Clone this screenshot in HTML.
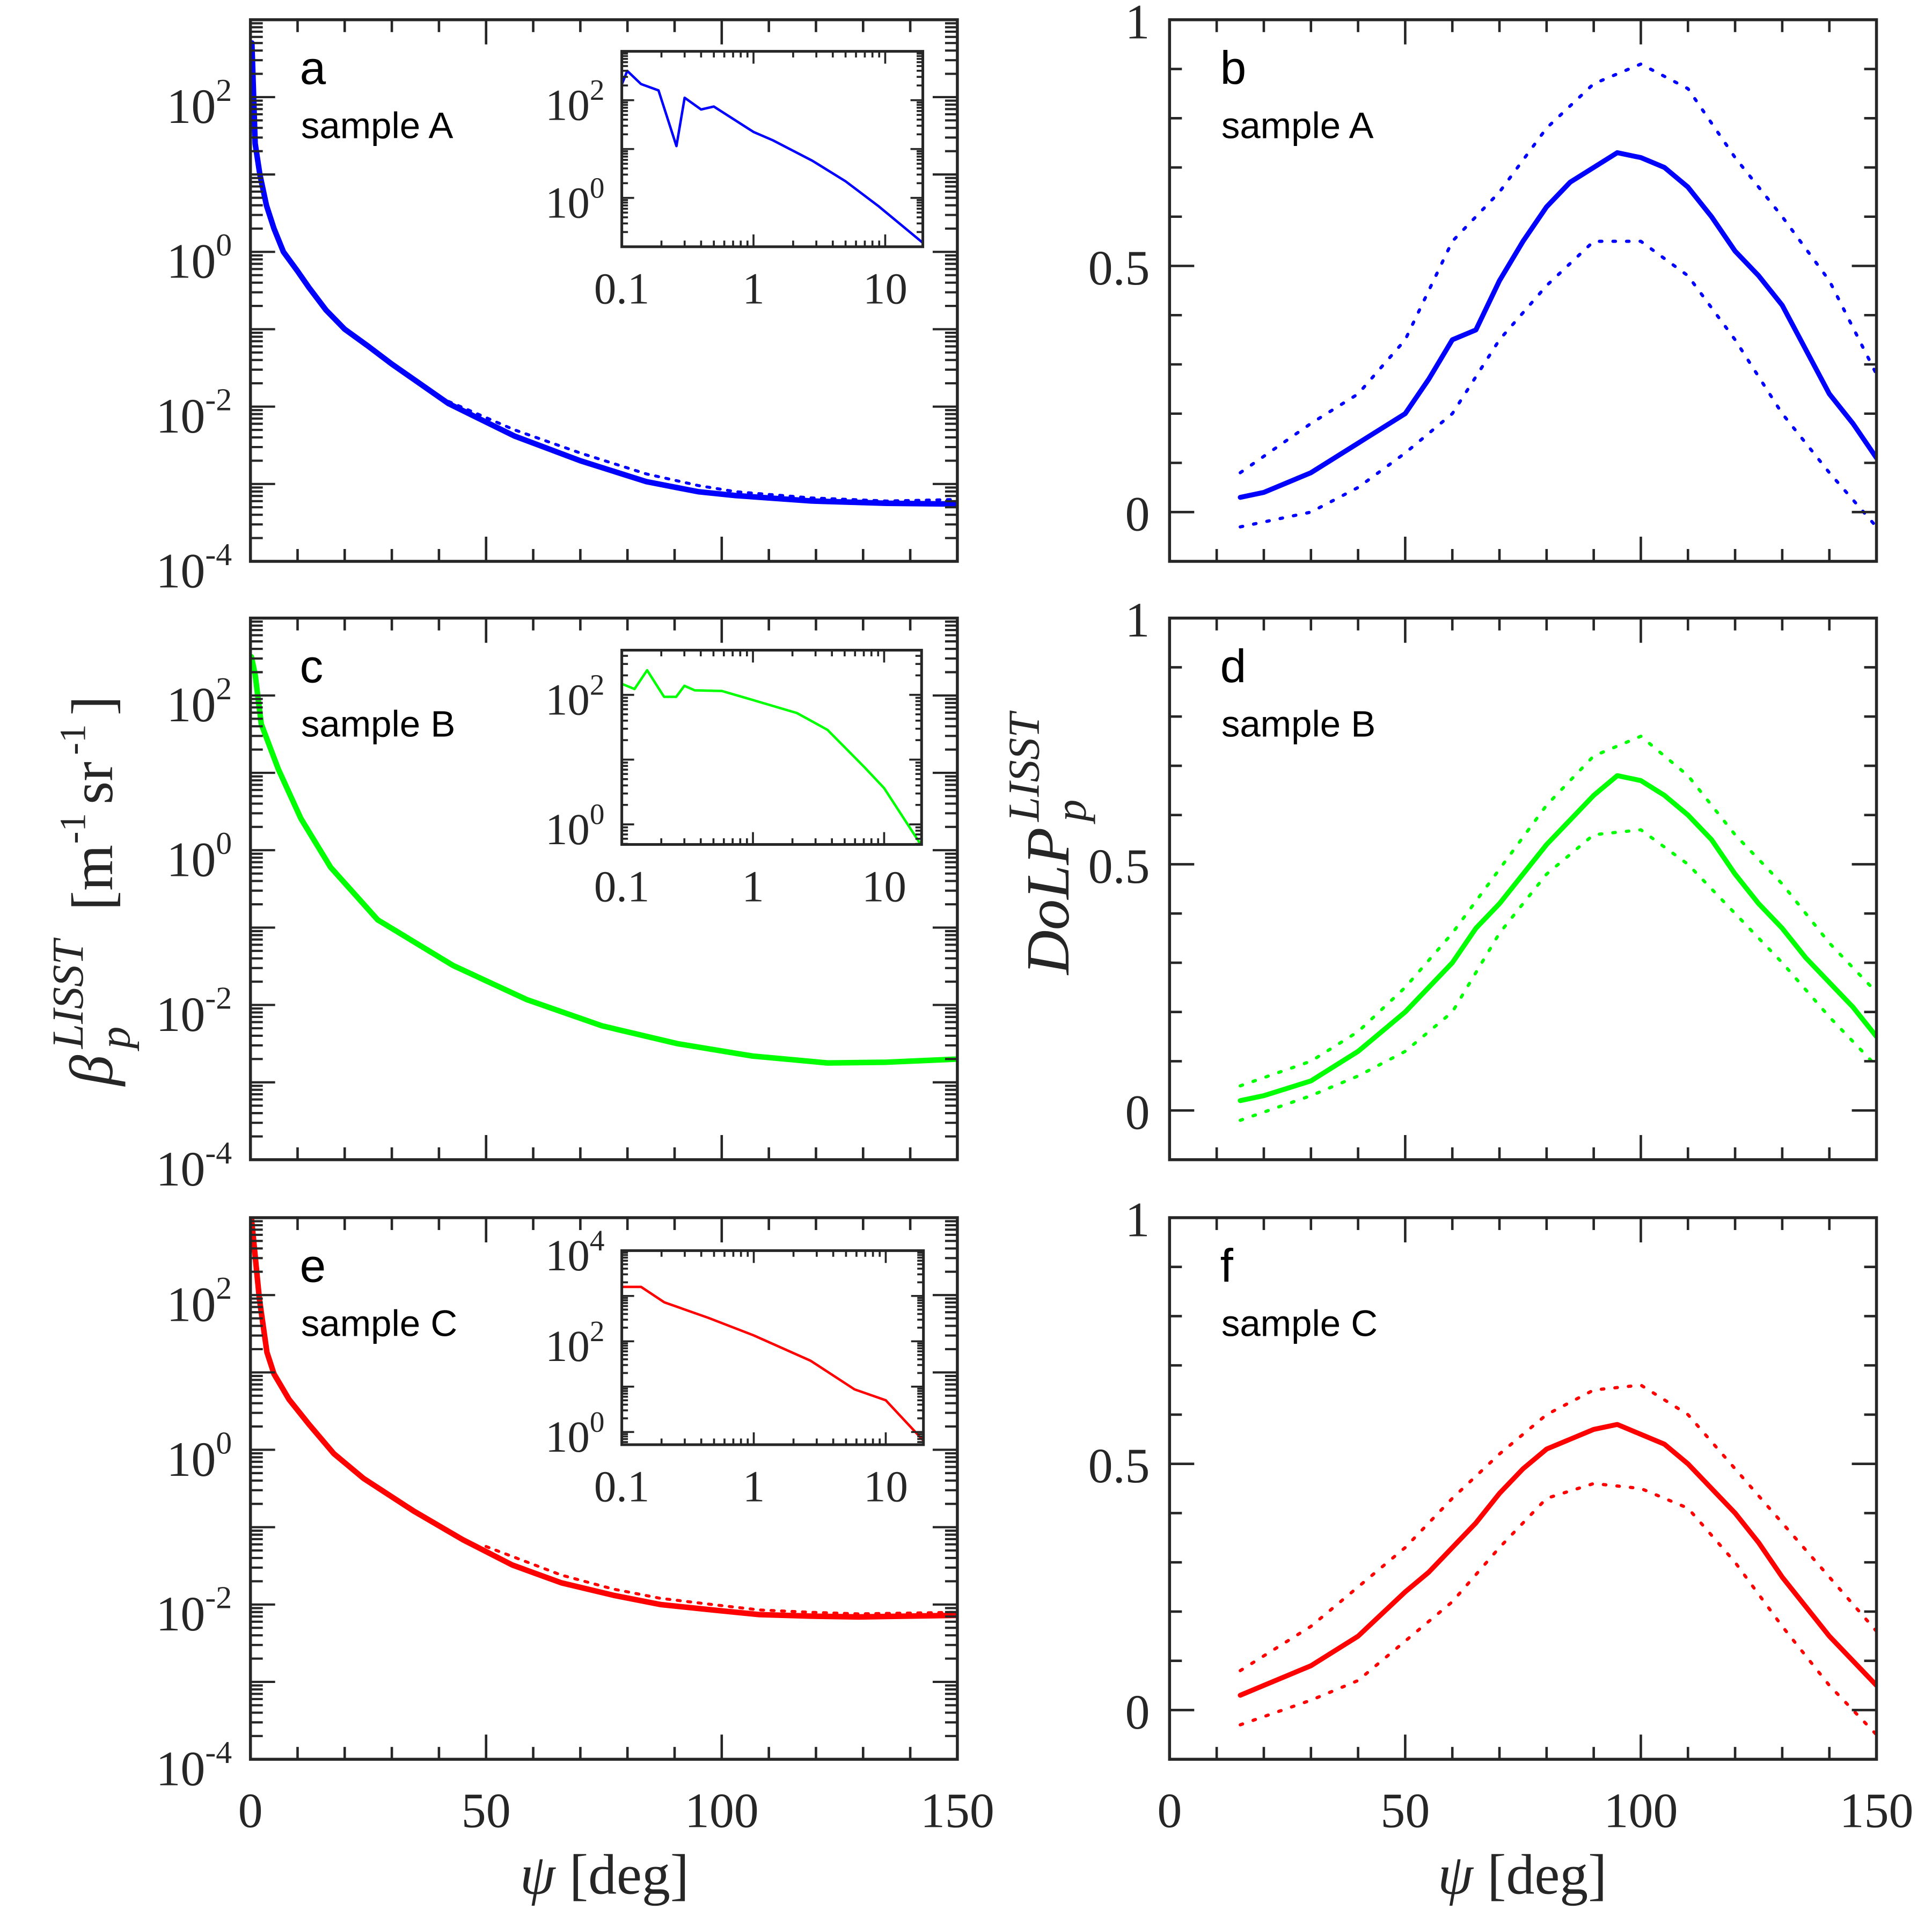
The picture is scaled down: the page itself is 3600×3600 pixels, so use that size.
<!DOCTYPE html>
<html><head><meta charset="utf-8"><style>
html,body{margin:0;padding:0;background:#fff}
svg{display:block}
text{font-family:"Liberation Serif",serif;fill:#262626}
.sans{font-family:"Liberation Sans",sans-serif;fill:#000}
</style></head><body>
<svg id="fig" width="3600" height="3600" viewBox="0 0 1566 1566" xmlns="http://www.w3.org/2000/svg">
<rect width="1566" height="1566" fill="#fff"/>
<g id="root"></g>
</svg>
<script>
// ---------- data: phase functions (log10 beta vs psi) ----------
const psiA = [0.3,1,2,3.4,5,7,10,12.4,16,20,25,30,42,56,70,84,95,103,119,135,150];
const logA = [2.7,1.4,1.0,0.6,0.3,0.0,-0.25,-0.46,-0.75,-1.0,-1.22,-1.45,-1.96,-2.38,-2.7,-2.97,-3.1,-3.15,-3.22,-3.25,-3.26];
const psiAdot = [40,56,70,84,95,103,119,135,150];
const logAdot = [-1.88,-2.3,-2.6,-2.87,-3.02,-3.1,-3.18,-3.22,-3.2];
const psiB = [0.2,1,2.3,5.9,10.7,17,27,43,58.6,74.6,90.6,106.5,122.5,135,150];
const logB = [2.5,2.27,1.63,1.05,0.41,-0.22,-0.9,-1.49,-1.93,-2.27,-2.5,-2.66,-2.75,-2.74,-2.7];
const psiC = [0.2,1.9,3.5,5,8.2,12.4,17.7,24,34.6,45,55.6,66,77,87,98,108,119,129,150];
const logC = [3.0,1.95,1.26,0.98,0.65,0.33,-0.05,-0.37,-0.79,-1.16,-1.49,-1.72,-1.88,-2.0,-2.07,-2.13,-2.15,-2.16,-2.14];
const psiCdot = [50,66,77,87,98,108,119,129,150];
const logCdot = [-1.25,-1.62,-1.8,-1.92,-2.0,-2.07,-2.1,-2.12,-2.1];
// insets (x log angle, y log beta)
const insA_x = [0.1,0.11,0.14,0.19,0.26,0.3,0.4,0.5,1,1.4,2.8,5,8.9,19.5];
const insA_y = [2.32,2.6,2.33,2.2,1.06,2.05,1.81,1.87,1.35,1.18,0.76,0.34,-0.17,-0.93];
const insB_x = [0.1,0.125,0.156,0.21,0.26,0.3,0.36,0.58,1,2.16,3.7,7.1,10,18.6];
const insB_y = [2.17,2.09,2.38,1.97,1.97,2.14,2.07,2.06,1.92,1.72,1.46,0.88,0.56,-0.28];
const insC_x = [0.1,0.14,0.21,0.45,1,2.7,5.8,10,19];
const insC_y = [3.2,3.2,2.86,2.52,2.13,1.57,0.94,0.7,-0.17];
// ---------- data: DoLP ----------
const psiD = [15,20,30,40,50,55,60,65,70,75,80,85,90,95,100,105,110,115,120,125,130,135,140,145,150];
const dolpA = [0.03,0.04,0.08,0.14,0.2,0.27,0.35,0.37,0.47,0.55,0.62,0.67,0.7,0.73,0.72,0.7,0.66,0.6,0.53,0.48,0.42,0.33,0.24,0.18,0.11];
const psiE = [15,30,40,50,60,70,80,90,100,110,120,130,140,150];
const dolpAup = [0.08,0.18,0.24,0.35,0.55,0.65,0.78,0.87,0.91,0.86,0.72,0.6,0.47,0.28];
const dolpAlo = [-0.03,0.0,0.05,0.12,0.2,0.35,0.46,0.55,0.55,0.48,0.35,0.2,0.08,-0.03];
const dolpB = [0.02,0.03,0.06,0.12,0.2,0.25,0.3,0.37,0.42,0.48,0.54,0.59,0.64,0.68,0.67,0.64,0.6,0.55,0.48,0.42,0.37,0.31,0.26,0.21,0.15];
const dolpBup = [0.05,0.1,0.16,0.25,0.36,0.49,0.62,0.72,0.76,0.68,0.56,0.46,0.34,0.24];
const dolpBlo = [-0.02,0.03,0.07,0.12,0.2,0.36,0.48,0.56,0.57,0.5,0.4,0.3,0.19,0.09];
const dolpC = [0.03,0.05,0.09,0.15,0.24,0.28,0.33,0.38,0.44,0.49,0.53,0.55,0.57,0.58,0.56,0.54,0.5,0.45,0.4,0.34,0.27,0.21,0.15,0.1,0.05];
const dolpCup = [0.08,0.17,0.25,0.33,0.43,0.52,0.6,0.65,0.66,0.6,0.49,0.38,0.27,0.16];
const dolpClo = [-0.03,0.02,0.06,0.14,0.22,0.33,0.43,0.46,0.45,0.41,0.3,0.17,0.05,-0.05];
// ---------- labels ----------
const xTickLabels = ['0','50','100','150'];
const logTickLabels = ['-4','-2','0','2'];
const dolpTickLabels = ['0','0.5','1'];

const NS='http://www.w3.org/2000/svg';
const root=document.getElementById('root');
const AX='#262626';
function mk(tag,attrs,parent){const e=document.createElementNS(NS,tag);for(const k in attrs)e.setAttribute(k,attrs[k]);(parent||root).appendChild(e);return e;}
function line(x1,y1,x2,y2,w,parent){return mk('line',{x1:x1,y1:y1,x2:x2,y2:y2,stroke:AX,'stroke-width':w||2.2},parent);}

const LX=[203,776], RX=[948,1521];
const ROWS=[[16,455],[501,940],[987,1426]];
const COLORS=['#0000ff','#00ff00','#ff0000'];

function linX(x0,x1,v0,v1){return v=>x0+(v-v0)/(v1-v0)*(x1-x0);}
function linY(y0,y1,v0,v1){return v=>y1-(v-v0)/(v1-v0)*(y1-y0);}
function logX(x0,x1,d0,d1){return v=>x0+(Math.log10(v)-d0)/(d1-d0)*(x1-x0);}

let clipId=0;
function clip(x0,y0,x1,y1){const id='c'+(clipId++);const cp=mk('clipPath',{id:id});mk('rect',{x:x0,y:y0,width:x1-x0,height:y1-y0},cp);return 'url(#'+id+')';}
function path(xs,ys,fx,fy,color,w,dash,g,name){
  let d='';for(let i=0;i<xs.length;i++){d+=(i?'L':'M')+fx(xs[i]).toFixed(2)+','+fy(ys[i]).toFixed(2);}
  const p=mk('path',{d:d,fill:'none',stroke:color,'stroke-width':w,'stroke-linejoin':'round','stroke-linecap':'round'},g);
  if(dash)p.setAttribute('stroke-dasharray',dash);
  
  
  return p;
}

function xTicks(x0,x1,y0,y1,fx){
  for(let v=0;v<=150;v+=10){const x=fx(v);const L=(v%50===0)?20:10;
    line(x,y1,x,y1-L,2);line(x,y0,x,y0+L,2);}
}
function logYTicks(x0,x1,fy,dmin,dmax,Lmaj,Lmin){
  for(let d=Math.floor(dmin);d<=dmax;d++){
    for(let m=1;m<10;m++){const v=d+Math.log10(m);if(v<dmin-1e-6||v>dmax+1e-6)continue;
      const y=fy(v);const L=m===1?Lmaj:Lmin;line(x0,y,x0+L,y,1.8);line(x1,y,x1-L,y,1.8);}
  }
}
function supLabel(x,y,base,exp,size,ssize,anchor,name){
  const t=mk('text',{x:x,y:y,'font-size':size,'text-anchor':anchor||'end'});
  t.textContent=base;
  const s=mk('tspan',{'font-size':ssize,dy:-size*0.45},t);s.textContent=exp;
  
  
  return t;
}

const letters=[['a','b'],['c','d'],['e','f']];
const samples=['sample A','sample B','sample C'];
const mainPsi=[psiA,psiB,psiC], mainLog=[logA,logB,logC];
const dotPsi=[psiAdot,psiB,psiCdot], dotLog=[logAdot,logB,logCdot];
const insX=[insA_x,insB_x,insC_x], insY=[insA_y,insB_y,insC_y];
const insRange=[[-1.0,3.0],[-0.31,2.69],[-0.28,4.0]];
const insBox=[[504,748,41.6,200],[504,747,527,684.5],[504,748.5,1013.7,1171]];
const insYLabels=[[0,2],[0,2],[0,2,4]];
const dolpMain=[dolpA,dolpB,dolpC],dolpUp=[dolpAup,dolpBup,dolpCup],dolpLo=[dolpAlo,dolpBlo,dolpClo];

for(let r=0;r<3;r++){
  const [y0,y1]=ROWS[r];const col=COLORS[r];
  const gl=mk('g',{});
  
  
  const fx=linX(LX[0],LX[1],0,150), fy=linY(y0,y1,-4,3);
  const cl=clip(LX[0],y0,LX[1],y1);
  const gc=mk('g',{'clip-path':cl},gl);
  path(dotPsi[r],dotLog[r],fx,fy,col,2.4,'2.5 6',gc,'dotted-bound-'+letters[r][0]);
  path(mainPsi[r],mainLog[r],fx,fy,col,4.5,null,gc,'mean-curve-'+letters[r][0]);
  xTicks(LX[0],LX[1],y0,y1,fx);
  logYTicks(LX[0],LX[1],fy,-4,3,20,10);
  const fr=mk('rect',{x:LX[0],y:y0,width:LX[1]-LX[0],height:y1-y0,fill:'none',stroke:AX,'stroke-width':2.4},gl);
  
  
  for(let i=0;i<logTickLabels.length;i++){const d=parseInt(logTickLabels[i]);
    supLabel(188,fy(d)+21,'10',logTickLabels[i],40,26,'end','y-tick-label');}
  let t=mk('text',{x:243,y:y0+52,'font-size':38,class:'sans'});t.textContent=letters[r][0];
   
  t=mk('text',{x:244,y:y0+96,'font-size':30,class:'sans'});t.textContent=samples[r];
   
  const [ix0,ix1,iy0,iy1]=insBox[r];const [d0,d1]=insRange[r];
  const ifx=logX(ix0,ix1,-1,Math.log10(19.3)), ify=linY(iy0,iy1,d0,d1);
  mk('rect',{x:ix0,y:iy0,width:ix1-ix0,height:iy1-iy0,fill:'#fff'},gl);
  const ic=clip(ix0,iy0,ix1,iy1);
  const gi=mk('g',{'clip-path':ic},gl);
  
  
  path(insX[r],insY[r],ifx,ify,col,2,null,gi,'inset-curve');
  for(let d=-1;d<=1;d++)for(let m=1;m<10;m++){const v=m*Math.pow(10,d);if(v<0.1||v>19.3)continue;const x=ifx(v);const L=m===1?10:5;
    line(x,iy1,x,iy1-L,1.6);line(x,iy0,x,iy0+L,1.6);}
  for(let d=Math.floor(d0);d<=d1;d++)for(let m=1;m<10;m++){const v=d+Math.log10(m);if(v<d0||v>d1)continue;const y=ify(v);const L=m===1?10:5;
    line(ix0,y,ix0+L,y,1.6);line(ix1,y,ix1-L,y,1.6);}
  mk('rect',{x:ix0,y:iy0,width:ix1-ix0,height:iy1-iy0,fill:'none',stroke:AX,'stroke-width':2.2},gl);
  for(const e of insYLabels[r]){supLabel(ix0-14,ify(e)+16,'10',String(e),36,24,'end','inset-y-tick-label');}
  ['0.1','1','10'].forEach(s=>{const tt=mk('text',{x:ifx(parseFloat(s)),y:iy1+46,'font-size':36,'text-anchor':'middle'});tt.textContent=s;
     });

  const gr=mk('g',{});
  
  
  const rfx=linX(RX[0],RX[1],0,150), rfy=linY(y0,y1,-0.1,1.0);
  const cr=clip(RX[0],y0,RX[1],y1);
  const gcr=mk('g',{'clip-path':cr},gr);
  path(psiE,dolpUp[r],rfx,rfy,col,2.6,'2 9',gcr,'dolp-upper-'+letters[r][1]);
  path(psiE,dolpLo[r],rfx,rfy,col,2.6,'2 9',gcr,'dolp-lower-'+letters[r][1]);
  path(psiD,dolpMain[r],rfx,rfy,col,4,null,gcr,'dolp-mean-'+letters[r][1]);
  xTicks(RX[0],RX[1],y0,y1,rfx);
  for(let k=0;k<=10;k++){const v=k/10;const y=rfy(v);const L=(k%5===0)?20:10;line(RX[0],y,RX[0]+L,y,2);line(RX[1],y,RX[1]-L,y,2);}
  const fr2=mk('rect',{x:RX[0],y:y0,width:RX[1]-RX[0],height:y1-y0,fill:'none',stroke:AX,'stroke-width':2.4},gr);
  
  
  dolpTickLabels.forEach(s=>{const tt=mk('text',{x:932,y:rfy(parseFloat(s))+15,'font-size':40,'text-anchor':'end'});tt.textContent=s;
     });
  t=mk('text',{x:989,y:y0+52,'font-size':38,class:'sans'});t.textContent=letters[r][1];
   
  t=mk('text',{x:990,y:y0+96,'font-size':30,class:'sans'});t.textContent=samples[r];
   

  if(r===2){
    xTickLabels.forEach(s=>{const v=parseFloat(s);
      let a=mk('text',{x:fx(v),y:1481,'font-size':40,'text-anchor':'middle'});a.textContent=s;
       
      a=mk('text',{x:rfx(v),y:1481,'font-size':40,'text-anchor':'middle'});a.textContent=s;
       });
  }
}
</script>
<script>
(function(){
  const root=document.getElementById('root');const NS='http://www.w3.org/2000/svg';
  function tx(parent,attrs,txt){const e=document.createElementNS(NS,'text');for(const k in attrs)e.setAttribute(k,attrs[k]);e.textContent=txt;parent.appendChild(e);return e;}
  [[490,'x-axis-title-left'],[1234,'x-axis-title-right']].forEach(([cx,nm])=>{
    const t=tx(root,{x:cx,y:1535,'font-size':46,'text-anchor':'middle'},'');
     
    const a=document.createElementNS(NS,'tspan');a.setAttribute('font-style','italic');a.textContent='ψ';t.appendChild(a);
    const b=document.createElementNS(NS,'tspan');b.textContent=' [deg]';t.appendChild(b);
  });
  const g=document.createElementNS(NS,'g');g.setAttribute('transform','translate(91,880) rotate(-90)');root.appendChild(g);
   
  tx(g,{x:0,y:0,'font-size':50,'font-style':'italic'},'β');
  tx(g,{x:30,y:14,'font-size':36,'font-style':'italic'},'p');
  tx(g,{x:30,y:-24,'font-size':36,'font-style':'italic'},'LISST');
  tx(g,{x:142,y:0,'font-size':48},'[m');
  tx(g,{x:196,y:-22,'font-size':30},'-1');
  tx(g,{x:228,y:0,'font-size':48},'sr');
  tx(g,{x:268,y:-22,'font-size':30},'-1');
  tx(g,{x:300,y:0,'font-size':48},']');
  const h=document.createElementNS(NS,'g');h.setAttribute('transform','translate(866,790) rotate(-90)');root.appendChild(h);
   
  tx(h,{x:0,y:0,'font-size':50,'font-style':'italic'},'DoLP');
  tx(h,{x:124,y:14,'font-size':36,'font-style':'italic'},'p');
  tx(h,{x:124,y:-24,'font-size':36,'font-style':'italic'},'LISST');
})();
</script>
</body></html>
